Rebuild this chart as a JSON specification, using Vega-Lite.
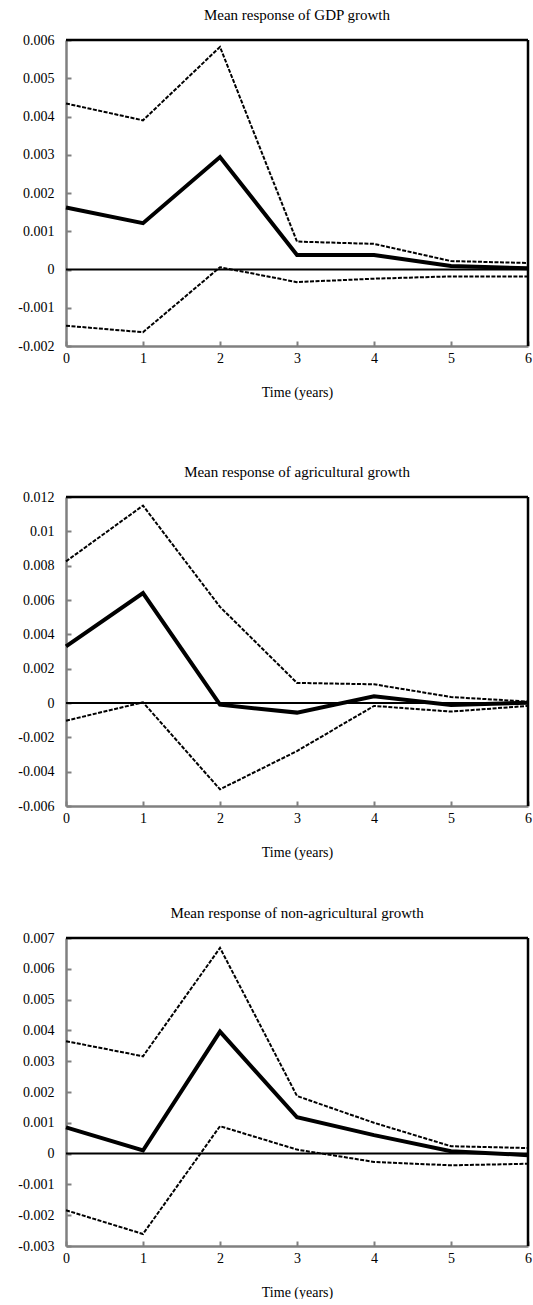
{
  "$schema": "https://vega.github.io/schema/vega-lite/v6.json",
  "padding": {"left": 5, "top": 8, "right": 0, "bottom": 0},
  "background": "white",
  "spacing": 47,
  "datasets": {
    "gdp": [
      {"t": 0, "upper": 0.00434, "mean": 0.00162, "lower": -0.00147},
      {"t": 1, "upper": 0.0039, "mean": 0.00121, "lower": -0.00164},
      {"t": 2, "upper": 0.00582, "mean": 0.00294, "lower": 0.00006},
      {"t": 3, "upper": 0.00073, "mean": 0.00038, "lower": -0.00033},
      {"t": 4, "upper": 0.00067, "mean": 0.00038, "lower": -0.00024},
      {"t": 5, "upper": 0.00022, "mean": 0.00009, "lower": -0.00018},
      {"t": 6, "upper": 0.00017, "mean": 0.00003, "lower": -0.00018}
    ],
    "agri": [
      {"t": 0, "upper": 0.00825, "mean": 0.0033, "lower": -0.00103},
      {"t": 1, "upper": 0.0115, "mean": 0.0064, "lower": 0.00004},
      {"t": 2, "upper": 0.0056, "mean": -0.0001, "lower": -0.00503},
      {"t": 3, "upper": 0.00117, "mean": -0.00056, "lower": -0.0028},
      {"t": 4, "upper": 0.00109, "mean": 0.00039, "lower": -0.00017},
      {"t": 5, "upper": 0.00035, "mean": -0.00012, "lower": -0.0005},
      {"t": 6, "upper": 0.00008, "mean": 0.00002, "lower": -0.00017}
    ],
    "nonagri": [
      {"t": 0, "upper": 0.00365, "mean": 0.00085, "lower": -0.00184},
      {"t": 1, "upper": 0.00316, "mean": 0.0001, "lower": -0.00261},
      {"t": 2, "upper": 0.00668, "mean": 0.00396, "lower": 0.00089},
      {"t": 3, "upper": 0.00187, "mean": 0.00118, "lower": 0.00013},
      {"t": 4, "upper": 0.001, "mean": 0.0006, "lower": -0.00027},
      {"t": 5, "upper": 0.00024, "mean": 0.00008, "lower": -0.00038},
      {"t": 6, "upper": 0.00018, "mean": -0.00005, "lower": -0.00033}
    ],
    "one": [{"k": 1}]
  },
  "vconcat": [
    {
      "title": {"text": "Mean response of GDP growth"},
      "width": 462,
      "height": 306,
      "layer": [
        {"data": {"name": "one"}, "mark": {"type": "rule", "color": "black", "strokeWidth": 2}, "encoding": {"y": {"datum": 0, "type": "quantitative", "scale": {"domain": [-0.002, 0.006], "nice": false}}}},
        {"data": {"name": "gdp"}, "mark": {"type": "line", "color": "black", "strokeWidth": 2, "strokeDash": [4, 1.5]},
          "encoding": {
            "x": {"field": "t", "type": "quantitative", "scale": {"domain": [0, 6], "nice": false}, "axis": {"values": [0, 1, 2, 3, 4, 5, 6], "tickCount": 20, "format": "d", "title": ["Time (years)", " "], "titleLineHeight": 19}},
            "y": {"field": "upper", "type": "quantitative", "scale": {"domain": [-0.002, 0.006], "nice": false}, "axis": {"values": [-0.002, -0.001, 0, 0.001, 0.002, 0.003, 0.004, 0.005, 0.006], "tickCount": 30, "title": null}}
          }},
        {"data": {"name": "gdp"}, "mark": {"type": "line", "color": "black", "strokeWidth": 2, "strokeDash": [4, 1.5]},
          "encoding": {"x": {"field": "t", "type": "quantitative"}, "y": {"field": "lower", "type": "quantitative"}}},
        {"data": {"name": "gdp"}, "mark": {"type": "line", "color": "black", "strokeWidth": 4},
          "encoding": {"x": {"field": "t", "type": "quantitative"}, "y": {"field": "mean", "type": "quantitative"}}},
        {"data": {"name": "one"}, "mark": {"type": "rule", "color": "black", "strokeWidth": 2.5}, "encoding": {"y": {"datum": 0.006, "type": "quantitative"}}},
        {"data": {"name": "one"}, "mark": {"type": "rule", "color": "black", "strokeWidth": 2.5}, "encoding": {"x": {"datum": 6, "type": "quantitative"}}}
      ]
    },
    {
      "title": {"text": "Mean response of agricultural  growth"},
      "width": 462,
      "height": 309,
      "layer": [
        {"data": {"name": "one"}, "mark": {"type": "rule", "color": "black", "strokeWidth": 2}, "encoding": {"y": {"datum": 0, "type": "quantitative", "scale": {"domain": [-0.006, 0.012], "nice": false}}}},
        {"data": {"name": "agri"}, "mark": {"type": "line", "color": "black", "strokeWidth": 2, "strokeDash": [4, 1.5]},
          "encoding": {
            "x": {"field": "t", "type": "quantitative", "scale": {"domain": [0, 6], "nice": false}, "axis": {"values": [0, 1, 2, 3, 4, 5, 6], "tickCount": 20, "format": "d", "title": "Time (years)"}},
            "y": {"field": "upper", "type": "quantitative", "scale": {"domain": [-0.006, 0.012], "nice": false}, "axis": {"values": [-0.006, -0.004, -0.002, 0, 0.002, 0.004, 0.006, 0.008, 0.01, 0.012], "tickCount": 30, "title": null}}
          }},
        {"data": {"name": "agri"}, "mark": {"type": "line", "color": "black", "strokeWidth": 2, "strokeDash": [4, 1.5]},
          "encoding": {"x": {"field": "t", "type": "quantitative"}, "y": {"field": "lower", "type": "quantitative"}}},
        {"data": {"name": "agri"}, "mark": {"type": "line", "color": "black", "strokeWidth": 4},
          "encoding": {"x": {"field": "t", "type": "quantitative"}, "y": {"field": "mean", "type": "quantitative"}}},
        {"data": {"name": "one"}, "mark": {"type": "rule", "color": "black", "strokeWidth": 2.5}, "encoding": {"y": {"datum": 0.012, "type": "quantitative"}}},
        {"data": {"name": "one"}, "mark": {"type": "rule", "color": "black", "strokeWidth": 2.5}, "encoding": {"x": {"datum": 6, "type": "quantitative"}}}
      ]
    },
    {
      "title": {"text": "Mean response of non-agricultural  growth"},
      "width": 462,
      "height": 308,
      "layer": [
        {"data": {"name": "one"}, "mark": {"type": "rule", "color": "black", "strokeWidth": 2}, "encoding": {"y": {"datum": 0, "type": "quantitative", "scale": {"domain": [-0.003, 0.007], "nice": false}}}},
        {"data": {"name": "nonagri"}, "mark": {"type": "line", "color": "black", "strokeWidth": 2, "strokeDash": [4, 1.5]},
          "encoding": {
            "x": {"field": "t", "type": "quantitative", "scale": {"domain": [0, 6], "nice": false}, "axis": {"values": [0, 1, 2, 3, 4, 5, 6], "tickCount": 20, "format": "d", "title": "Time (years)"}},
            "y": {"field": "upper", "type": "quantitative", "scale": {"domain": [-0.003, 0.007], "nice": false}, "axis": {"values": [-0.003, -0.002, -0.001, 0, 0.001, 0.002, 0.003, 0.004, 0.005, 0.006, 0.007], "tickCount": 30, "title": null}}
          }},
        {"data": {"name": "nonagri"}, "mark": {"type": "line", "color": "black", "strokeWidth": 2, "strokeDash": [4, 1.5]},
          "encoding": {"x": {"field": "t", "type": "quantitative"}, "y": {"field": "lower", "type": "quantitative"}}},
        {"data": {"name": "nonagri"}, "mark": {"type": "line", "color": "black", "strokeWidth": 4},
          "encoding": {"x": {"field": "t", "type": "quantitative"}, "y": {"field": "mean", "type": "quantitative"}}},
        {"data": {"name": "one"}, "mark": {"type": "rule", "color": "black", "strokeWidth": 2.5}, "encoding": {"y": {"datum": 0.007, "type": "quantitative"}}},
        {"data": {"name": "one"}, "mark": {"type": "rule", "color": "black", "strokeWidth": 2.5}, "encoding": {"x": {"datum": 6, "type": "quantitative"}}}
      ]
    }
  ],
  "config": {
    "font": "Liberation Serif",
    "view": {"stroke": null},
    "title": {"fontSize": 15, "fontWeight": "normal", "font": "Liberation Serif", "color": "black", "anchor": "middle", "offset": 10},
    "axis": {
      "grid": false,
      "domainColor": "#808080",
      "domainWidth": 2.5,
      "tickColor": "#808080",
      "tickWidth": 2,
      "tickSize": -5,
      "labelFont": "Liberation Serif",
      "labelFontSize": 14,
      "labelColor": "black",
      "labelOverlap": false,
      "titleFont": "Liberation Serif",
      "titleFontSize": 14,
      "titleFontWeight": "normal",
      "titleColor": "black",
      "labelExpr": "replace(format(datum.value, '~g'), '\u2212', '-')"
    },
    "axisY": {"labelPadding": 17, "minExtent": 61, "maxExtent": 61},
    "axisX": {"labelPadding": 10, "titlePadding": 20, "labelFlush": false}
  }
}
